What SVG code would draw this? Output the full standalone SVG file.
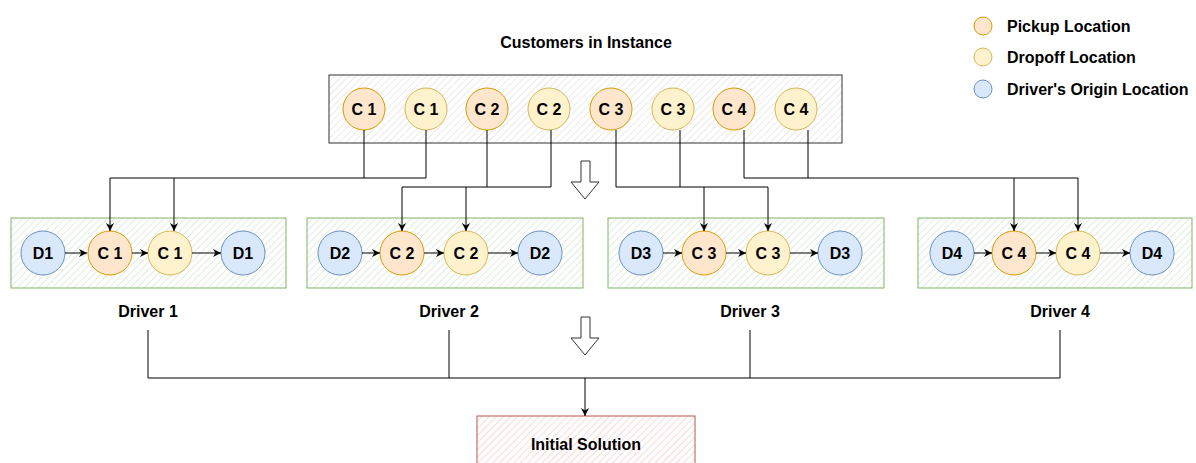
<svg xmlns="http://www.w3.org/2000/svg" width="1196" height="463" viewBox="0 0 1196 463">
<defs>
<pattern id="hg" width="5" height="5" patternUnits="userSpaceOnUse" patternTransform="rotate(45)"><rect width="5" height="5" fill="#fff"/><line x1="0" y1="0" x2="0" y2="5" stroke="#e3e3e3" stroke-width="1.5"/></pattern>
<pattern id="hgr" width="5" height="5" patternUnits="userSpaceOnUse" patternTransform="rotate(45)"><rect width="5" height="5" fill="#fff"/><line x1="0" y1="0" x2="0" y2="5" stroke="#d5e8d4" stroke-width="1.5"/></pattern>
<pattern id="hr" width="5" height="5" patternUnits="userSpaceOnUse" patternTransform="rotate(45)"><rect width="5" height="5" fill="#fff"/><line x1="0" y1="0" x2="0" y2="5" stroke="#f8cecc" stroke-width="1.5"/></pattern>
<marker id="ah" viewBox="0 0 10 10" refX="10" refY="5" markerWidth="8" markerHeight="8" markerUnits="userSpaceOnUse" orient="auto"><path d="M0,0 L10,5 L0,10 L3,5 Z" fill="#000"/></marker>
</defs>
<style>
text{font-family:"Liberation Sans",Arial,sans-serif;font-weight:bold;fill:#000}
.lbl{font-size:16px;text-anchor:middle;dominant-baseline:central}
.t{font-size:16px;text-anchor:middle}
.lg{font-size:16px}
.p{fill:#ffe6cc;stroke:#d79b00;stroke-width:1}
.d{fill:#fff2cc;stroke:#d6b656;stroke-width:1}
.o{fill:#dae8fc;stroke:#6c8ebf;stroke-width:1}
.ln{fill:none;stroke:#000;stroke-width:1}
.ar{fill:none;stroke:#000;stroke-width:1;marker-end:url(#ah)}
.hol{fill:#fff;stroke:#333;stroke-width:1}
</style>
<rect width="1196" height="463" fill="#fff"/>

<g id="title"><text class="t" x="586" y="48">Customers in Instance</text></g>

<g id="legend">
<circle class="p" cx="983" cy="26" r="9"/><text class="lg" x="1007" y="32">Pickup Location</text>
<circle class="d" cx="983" cy="57" r="9"/><text class="lg" x="1007" y="63">Dropoff Location</text>
<circle class="o" cx="983" cy="89" r="9"/><text class="lg" x="1007" y="95">Driver's Origin Location</text>
</g>

<g id="hollow-arrow-1"><path class="hol" d="M581,161 L590,161 L590,182 L599,182 L585,199 L571,182 L581,182 Z"/></g>
<g id="hollow-arrow-2"><path class="hol" d="M581,317 L590,317 L590,338 L599,338 L585,355 L571,338 L581,338 Z"/></g>

<g id="customers">
<rect x="329" y="75" width="513" height="68" fill="url(#hg)" stroke="#333" stroke-width="1"/>
<circle class="p" cx="364" cy="109" r="21"/><text class="lbl" x="364" y="109">C 1</text>
<circle class="d" cx="426" cy="109" r="21"/><text class="lbl" x="426" y="109">C 1</text>
<circle class="p" cx="487" cy="109" r="21"/><text class="lbl" x="487" y="109">C 2</text>
<circle class="d" cx="549" cy="109" r="21"/><text class="lbl" x="549" y="109">C 2</text>
<circle class="p" cx="611" cy="109" r="21"/><text class="lbl" x="611" y="109">C 3</text>
<circle class="d" cx="673" cy="109" r="21"/><text class="lbl" x="673" y="109">C 3</text>
<circle class="p" cx="734" cy="109" r="21"/><text class="lbl" x="734" y="109">C 4</text>
<circle class="d" cx="796" cy="109" r="21"/><text class="lbl" x="796" y="109">C 4</text>
</g>

<g id="driver1">
<rect x="11" y="218" width="275" height="70" fill="url(#hgr)" stroke="#82b366" stroke-width="1"/>
<circle class="o" cx="43" cy="253" r="22"/><text class="lbl" x="43" y="253">D1</text>
<circle class="p" cx="110" cy="253" r="22"/><text class="lbl" x="110" y="253">C 1</text>
<circle class="d" cx="170" cy="253" r="22"/><text class="lbl" x="170" y="253">C 1</text>
<circle class="o" cx="243" cy="253" r="22"/><text class="lbl" x="243" y="253">D1</text>
<text class="t" x="148" y="317">Driver 1</text>
</g>

<g id="driver2">
<rect x="307" y="218" width="276" height="70" fill="url(#hgr)" stroke="#82b366" stroke-width="1"/>
<circle class="o" cx="340" cy="253" r="22"/><text class="lbl" x="340" y="253">D2</text>
<circle class="p" cx="402" cy="253" r="22"/><text class="lbl" x="402" y="253">C 2</text>
<circle class="d" cx="466" cy="253" r="22"/><text class="lbl" x="466" y="253">C 2</text>
<circle class="o" cx="540" cy="253" r="22"/><text class="lbl" x="540" y="253">D2</text>
<text class="t" x="449" y="317">Driver 2</text>
</g>

<g id="driver3">
<rect x="608" y="218" width="276" height="70" fill="url(#hgr)" stroke="#82b366" stroke-width="1"/>
<circle class="o" cx="641" cy="253" r="22"/><text class="lbl" x="641" y="253">D3</text>
<circle class="p" cx="704" cy="253" r="22"/><text class="lbl" x="704" y="253">C 3</text>
<circle class="d" cx="768" cy="253" r="22"/><text class="lbl" x="768" y="253">C 3</text>
<circle class="o" cx="840" cy="253" r="22"/><text class="lbl" x="840" y="253">D3</text>
<text class="t" x="750" y="317">Driver 3</text>
</g>

<g id="driver4">
<rect x="918" y="218" width="274" height="70" fill="url(#hgr)" stroke="#82b366" stroke-width="1"/>
<circle class="o" cx="952" cy="253" r="22"/><text class="lbl" x="952" y="253">D4</text>
<circle class="p" cx="1014" cy="253" r="22"/><text class="lbl" x="1014" y="253">C 4</text>
<circle class="d" cx="1078" cy="253" r="22"/><text class="lbl" x="1078" y="253">C 4</text>
<circle class="o" cx="1152" cy="253" r="22"/><text class="lbl" x="1152" y="253">D4</text>
<text class="t" x="1060" y="317">Driver 4</text>
</g>

<g id="initial-solution">
<rect x="477" y="416" width="218" height="60" fill="url(#hr)" stroke="#b85450" stroke-width="1"/>
<text class="t" x="586" y="450">Initial Solution</text>
</g>

<g id="connectors">
<polyline class="ln" points="364,130 364,178"/>
<polyline class="ln" points="426,130 426,178 110,178"/>
<polyline class="ar" points="110,178 110,231"/>
<polyline class="ar" points="174,178 174,231"/>
<polyline class="ln" points="487,130 487,187"/>
<polyline class="ln" points="551,130 551,187 402,187"/>
<polyline class="ar" points="402,187 402,231"/>
<polyline class="ar" points="466,187 466,231"/>
<polyline class="ln" points="616,130 616,187 768,187"/>
<polyline class="ln" points="680,130 680,187"/>
<polyline class="ar" points="704,187 704,231"/>
<polyline class="ar" points="768,187 768,231"/>
<polyline class="ln" points="744,130 744,178 1078,178"/>
<polyline class="ln" points="808,130 808,178"/>
<polyline class="ar" points="1014,178 1014,231"/>
<polyline class="ar" points="1078,178 1078,231"/>
<polyline class="ln" points="148,330 148,378 1060,378"/>
<polyline class="ln" points="449,330 449,378"/>
<polyline class="ln" points="750,330 750,378"/>
<polyline class="ln" points="1060,330 1060,378"/>
<polyline class="ar" points="585,378 585,416"/>
<polyline class="ar" points="65,253 87,253"/>
<polyline class="ar" points="132,253 148,253"/>
<polyline class="ar" points="192,253 221,253"/>
<polyline class="ar" points="362,253 380,253"/>
<polyline class="ar" points="424,253 444,253"/>
<polyline class="ar" points="488,253 518,253"/>
<polyline class="ar" points="663,253 682,253"/>
<polyline class="ar" points="726,253 746,253"/>
<polyline class="ar" points="790,253 818,253"/>
<polyline class="ar" points="974,253 992,253"/>
<polyline class="ar" points="1036,253 1056,253"/>
<polyline class="ar" points="1100,253 1130,253"/>
</g>
</svg>
